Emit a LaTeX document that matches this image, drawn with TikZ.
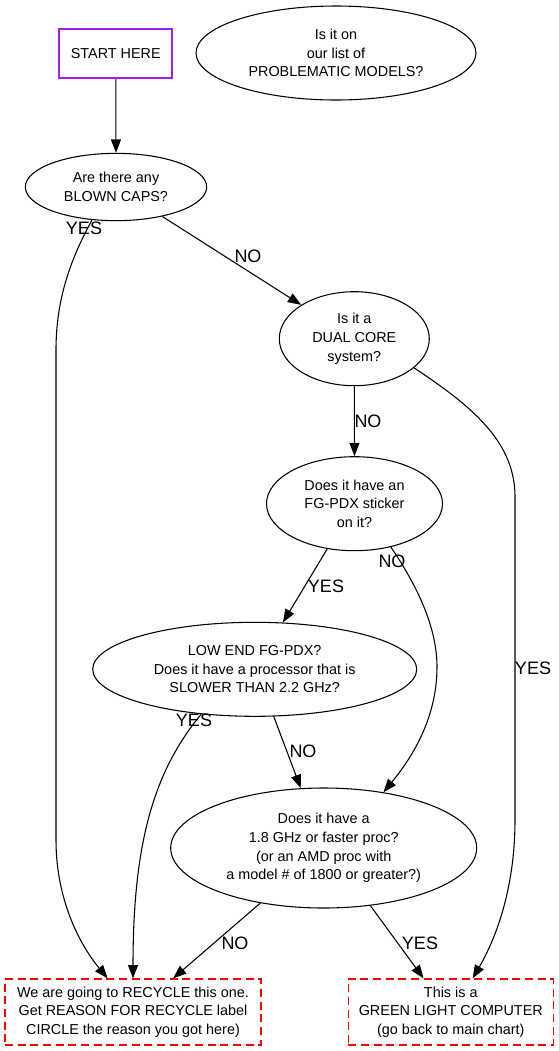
\documentclass[tikz,border=0pt]{standalone}
\usepackage{fontspec}
\setmainfont{Liberation Sans}
\usetikzlibrary{shapes.geometric,arrows.meta}
\definecolor{gvpurple}{HTML}{A020F0}
\definecolor{gvred}{HTML}{FF0000}
\begin{document}
\begin{tikzpicture}[x=0.75pt,y=-0.75pt,
  every node/.style={font=\fontsize{10.8}{14}\selectfont, align=center, inner sep=0pt},
  q/.style={ellipse, draw=black, line width=0.8pt},
  endbox/.style={rectangle, draw=gvred, dash pattern=on 6pt off 3.5pt, line width=1pt},
  conn/.style={draw=black, line width=0.8pt, -{Triangle[length=10pt,width=7.5pt]}},
  lbl/.style={font=\fontsize{13.5}{16}\selectfont}]
\useasboundingbox (0,0) rectangle (559,1051);

% nodes
\node[rectangle, draw=gvpurple, line width=1.6pt, minimum width=84.75pt, minimum height=36.75pt] (start) at (115.8,53.5) {START HERE};
\node[q, minimum width=210pt, minimum height=70.5pt] (prob) at (336,53) {Is it on\\our list of\\PROBLEMATIC MODELS?};
\node[q, minimum width=136pt, minimum height=50.5pt] (blown) at (116,187) {Are there any\\BLOWN CAPS?};
\node[q, minimum width=112.5pt, minimum height=70.5pt] (dual) at (354.3,338.7) {Is it a\\DUAL CORE\\system?};
\node[q, minimum width=132pt, minimum height=70.5pt] (fg) at (354.5,503.7) {Does it have an\\FG-PDX sticker\\on it?};
\node[q, minimum width=243pt, minimum height=70.5pt] (low) at (254.7,669.3) {LOW END FG-PDX?\\Does it have a processor that is\\SLOWER THAN 2.2 GHz?};
\node[q, minimum width=229.5pt, minimum height=90pt] (gh) at (323.7,848) {Does it have a\\1.8 GHz or faster proc?\\(or an AMD proc with\\a model \# of 1800 or greater?)};
\node[endbox, minimum width=192pt, minimum height=49.5pt] (recycle) at (133,1012) {We are going to RECYCLE this one.\\Get REASON FOR RECYCLE label\\CIRCLE the reason you got here)};
\node[endbox, minimum width=153.75pt, minimum height=49.5pt] (green) at (450.8,1012) {This is a\\GREEN LIGHT COMPUTER\\(go back to main chart)};

% connectors
\draw[conn] (start.south) -- (blown.north);
\draw[conn] (blown.-126.4) .. controls (70,260) and (56,300) .. (56,350) -- (56,840) .. controls (56,900) and (80,945) .. (recycle.127.9);
\draw[conn] (blown) -- (dual);
\draw[conn] (dual.south) -- (fg.north);
\draw[conn] (dual.-26.5) .. controls (470,405) and (514,440) .. (515,495) -- (515,820) .. controls (515,890) and (495,940) .. (green.57.7);
\draw[conn] (fg) -- (low);
\draw[conn] (fg.-50.8) .. controls (420,590) and (437,630) .. (437,667) .. controls (437,720) and (410,760) .. (gh.43.4);
\draw[conn] (low.-140.7) .. controls (155,770) and (133,840) .. (recycle.north);
\draw[conn] (low.-68.6) -- (gh.111.6);
\draw[conn] (gh.-139.2) -- (recycle.40.5);
\draw[conn] (gh.-51.8) -- (green.129.1);

% labels
\node[lbl] (l1) at (84,228) {YES};
\node[lbl] (l2) at (248,256) {NO};
\node[lbl] (l3) at (368,421) {NO};
\node[lbl] (l4) at (326,586) {YES};
\node[lbl] (l5) at (392,561) {NO};
\node[lbl] (l6) at (533,668) {YES};
\node[lbl] (l7) at (194,720) {YES};
\node[lbl] (l8) at (303,751) {NO};
\node[lbl] (l9) at (235,943) {NO};
\node[lbl] (l10) at (420,943) {YES};
\end{tikzpicture}
\end{document}
